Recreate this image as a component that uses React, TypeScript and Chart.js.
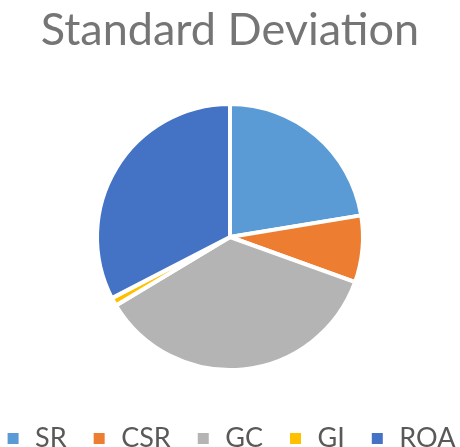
import React, { useEffect, useRef } from "react";
import { Chart, registerables } from "chart.js";
Chart.register(...registerables);

const categories = ["SR", "CSR", "GC", "GI", "ROA"];
const values = [22.4, 8.1, 35.9, 1.0, 32.6];
const colors = ["#5B9BD5", "#ED7D31", "#B4B4B4", "#FFC000", "#4472C4"];
const titleText = "Standard Deviation";

export default function App() {
  const ref = useRef<HTMLCanvasElement>(null);
  useEffect(() => {
    const baseGen = (Chart as any).overrides.pie.plugins.legend.labels.generateLabels;
    const chart = new Chart(ref.current!, {
      type: "pie",
      data: {
        labels: categories,
        datasets: [
          {
            data: values,
            backgroundColor: colors,
            borderColor: "#ffffff",
            borderWidth: 4,
          },
        ],
      },
      options: {
        responsive: false,
        animation: false,
        radius: 133,
        layout: { padding: { top: 0, bottom: 0, left: -20, right: -20 } },
        plugins: {
          title: {
            display: true,
            text: titleText,
            color: "#757575",
            font: { family: "Lato", size: 45, weight: "normal" },
            padding: { top: 3, bottom: 16 },
          },
          legend: {
            position: "bottom",
            labels: {
              color: "#595959",
              font: { family: "Lato", size: 27 },
              boxWidth: 17,
              boxHeight: 17,
              padding: 24,
              generateLabels: (c: any) =>
                baseGen(c).map((l: any) => ({ ...l, lineWidth: 6, strokeStyle: "#ffffff" })),
            },
          },
          tooltip: { enabled: false },
        },
      },
    } as any);
    return () => chart.destroy();
  }, []);
  return (
    <div
      style={{
        position: "absolute",
        left: 0,
        top: 0,
        width: 460,
        height: 447,
        overflow: "hidden",
        background: "#fff",
      }}
    >
      <canvas ref={ref} width={460} height={462} style={{ display: "block" }} />
    </div>
  );
}
